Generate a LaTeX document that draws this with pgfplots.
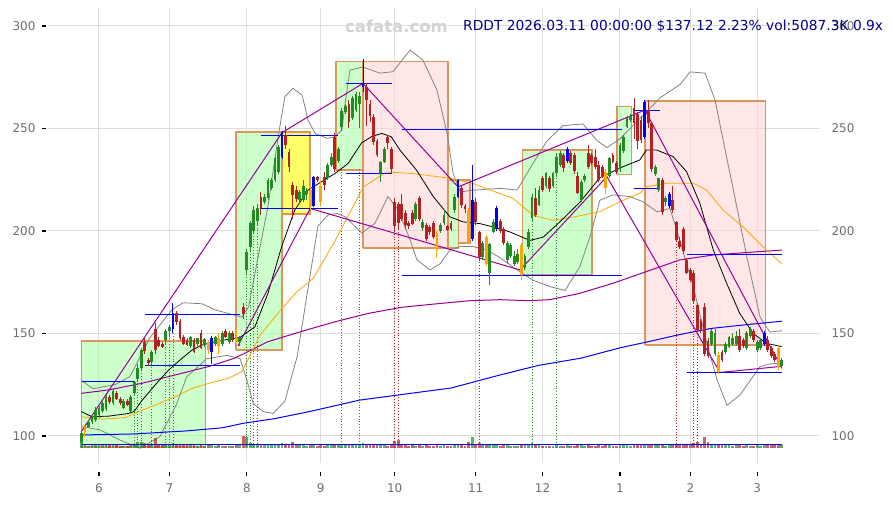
\documentclass[border=0pt]{standalone}
\usepackage{fontspec}
\setmainfont{DejaVu Sans}
\usepackage{pgfplots}
\usepackage{pgfplotstable}
\pgfplotsset{compat=1.18}

\definecolor{cgreen}{RGB}{34,139,34}
\definecolor{cred}{RGB}{178,34,34}
\definecolor{corange}{RGB}{255,165,0}
\definecolor{cblue}{RGB}{0,0,255}
\definecolor{cpurple}{RGB}{153,0,153}
\definecolor{boxedge}{RGB}{220,150,90}
\definecolor{gridc}{RGB}{221,221,221}
\definecolor{tickc}{RGB}{110,110,110}
\definecolor{titlec}{RGB}{0,0,139}
\definecolor{wmark}{RGB}{212,212,212}
\definecolor{bandc}{RGB}{130,130,130}
\definecolor{fgreen}{RGB}{170,255,170}
\definecolor{fpink}{RGB}{255,215,215}
\definecolor{fyellow}{RGB}{255,255,0}

% i = trading day (0 = 2 Jun 2025), t: 0 up, 1 down, 2 orange signal, 3 blue signal, v = volume bar height
\pgfplotstableread{
i o h l c t v
-5 97 103 94 101.5 0 2.8
-4 102 105.5 99.5 104 2 0.8
-3 104.5 108 104 107 0 0.6
-2 107 110 106 109.4 0 0.7
-1 108 114 107 112.5 0 0.9
0 110 114.5 109 113.5 0 0.8
1 112 117 111 116 0 0.7
2 113 120 112 119 0 1.0
3 119 120 115.5 116.5 1 0.8
4 116 123 115 122 0 0.9
5 121 122 117.5 118 1 0.7
6 118 119 115 116 1 0.6
7 113.5 118 113 117 0 0.6
8 117 118 114.5 115 1 0.5
9 112 120 111.5 119 0 0.8
10 121 127 120 126.5 0 1.1
11 128 135 127 133 0 1.4
12 133 143 132 142 0 1.6
13 146 148 140 141.5 1 1.2
14 137 138 134 135.5 1 0.8
15 136 142 135 141 0 0.9
16 152 155 140 142 1 2.4
17 147 148.5 143.5 144 1 1.0
18 145 146 143 143.5 1 0.7
19 147 152 145 151 0 0.9
20 151 154 149 153.3 0 0.9
21 152 165 150 160 3 1.3
22 159.8 161 154 155.8 1 1.0
23 156 157 147 147.6 1 1.1
24 148.5 149.5 144.5 145 1 0.8
25 147 148 144 144.5 1 0.7
26 144 149 143 148.5 0 0.8
27 147 148 140.5 141 1 0.7
28 145 148 144 147.6 0 0.6
29 150 151.5 142.5 143 1 0.8
30 144.5 148 143.5 147.5 0 0.6
31 146 147 140 142 2 0.7
32 141 149 135 148 3 0.9
33 145 149 144 148.5 0 0.6
34 148 150 140 144 2 0.7
35 145 151 144 150 0 0.6
36 151 152 148 148.5 1 0.5
37 146 151 145 150 0 0.6
38 150 151 146 147 1 0.6
39 148 152 145 146 2 0.7
40 146 149 144 148 0 0.8
41 163 165 157 159.5 1 3.0
42 181 191 179 189.9 0 2.8
43 192 205 190 203.7 0 1.2
44 200 212 199 210 0 1.0
45 205 213 203 211 0 0.9
46 216.7 219 208 211 1 0.8
47 214 218 213 216.5 0 0.7
48 216 226 215 224.9 0 0.9
49 221 226 220 225 0 0.7
50 225 236 224 235.5 0 1.0
51 229 242 228 241 0 1.0
52 236 249 235 248.4 3 1.2
53 247 251 240 242 1 1.1
54 238.7 240 229 231.4 1 1.0
55 222.4 224 206 217.6 1 1.5
56 220 222 214 215.5 1 0.9
57 215 220 213 219 0 0.7
58 215 225 214 222 0 0.8
59 218 221 215 219.5 0 0.6
60 220 222 210 212 2 0.8
61 212 227 211.8 226.5 3 0.9
62 226.5 227 224 224.8 1 0.6
63 222 225 212 214 2 0.7
64 226.5 229 220 222.4 1 0.6
65 226 233 225 232.2 0 0.7
66 232 238 231 236 0 0.8
67 246 248 229 230 1 1.0
68 234 241 233 240 0 0.7
69 250.6 260 249 258.7 0 1.1
70 258 262 257 261 0 0.7
71 262 264 250 253 1 0.8
72 255 266 254 265 0 0.8
73 259 268 258 267 0 0.7
74 262 268 250 266 0 0.9
75 270 284 268 272 3 1.2
76 270.4 272 251 263.9 1 1.0
77 262 264 253 256 1 0.8
78 255.5 257 242 243.4 1 0.9
79 244 245 236 237 1 0.8
80 228.1 234 224 233.8 0 0.9
81 233.8 241 233 240 0 0.7
82 245.9 247 240 242.7 1 0.6
83 240 241 228 230 1 0.8
84 214.3 216 200 202.2 1 1.8
85 213 214 201 204 1 2.0
86 213 218 205 206 1 1.0
87 208.8 210 201 203 1 0.8
88 204 205 201 202.5 1 0.6
89 209 210 203 203.5 1 0.7
90 206 214 205 213 0 0.6
91 216 217 205 206 1 0.7
92 201.3 206 200 204.6 0 0.5
93 203 204 195 196 1 0.7
94 202 203 198 199.5 1 0.6
95 204 205 196 197 1 0.6
96 199 200 187 190.5 2 0.8
97 200 204 199 203 0 0.6
98 204 210 203 208 0 0.7
99 202.5 203 200 200.5 1 0.5
100 204 205 200 201 1 0.6
101 210.2 218 209 216.7 0 0.9
102 216.7 225.5 216 224.9 3 1.0
103 220.9 222 211 212.7 1 0.8
104 212 213 209 210.5 1 0.6
105 210 211 193.5 194.5 2 1.6
106 196 232 195 215 3 2.6
107 214 216 203 204.6 1 1.0
108 199.7 200 186 187.5 1 1.2
109 187.5 195 186 194 0 0.8
110 197 198 183 184 2 0.9
111 179.5 194 173.5 193.5 0 1.1
112 199.7 206 199 204.6 0 0.7
113 201 212 200 211 3 0.8
114 205 206 199 200 1 0.6
115 201 202 193 194 1 0.7
116 185.8 195 184 194 0 0.8
117 188 194 187 193 0 0.5
118 184 190 183 188 0 0.6
119 185 191 184 189 0 0.5
120 193 194 176 178.5 2 0.9
121 182 189 181 188 0 0.7
122 192.4 201 191 199.7 0 0.8
123 206.2 218 205 216.7 0 1.2
124 216 221 207 208 1 0.8
125 212.7 222 212 220 0 0.7
126 225.8 227 219 220 1 0.6
127 222 229 221 228.2 0 0.6
128 226 227 219 220.5 1 0.5
129 222 229 221 228.5 0 0.6
130 228.2 238 227 236.3 0 0.9
131 232 239 231 238 0 0.6
132 237 238 229 230.5 1 0.6
133 234 241 233 240 3 0.7
134 238 239 232 233 1 0.5
135 237 238 228 229.5 1 0.6
136 227 229 218 218.5 1 0.8
137 215 225 214 224 0 0.7
138 225 228 224 227 0 0.5
139 238 242 230 231 1 0.7
140 237 238 232 233 1 0.5
141 236 240 230 231 1 0.6
142 232 234 224 225 1 0.7
143 231 232 226 227 1 0.5
144 229 230 218 221 2 0.7
145 226.6 236 226 235.5 0 0.8
146 237 238 233 233.5 1 0.5
147 233 234 228 229 1 0.5
148 230 243 229 242 0 0.8
149 239 247 238 246 0 0.8
150 250.9 256 250 255 0 0.9
151 254 257 253 256 0 0.6
152 259.8 265 245 252.6 1 0.9
153 257 258 240 244 1 0.8
154 254 256 243 244.5 1 0.8
155 246 264 245 263 3 1.0
156 259 264 250 252.6 1 0.8
157 252.6 253 229 230 1 1.1
158 228 232 227 231 0 0.7
159 220 226 219 225.7 0 0.8
160 225 226 208 209.4 1 0.9
161 214 217 212 216 0 0.6
162 212 219 211 218 3 0.7
163 215 222 209 210 1 0.7
164 204.6 205 195 195.6 1 1.0
165 195 197 191 192 1 0.8
166 201 202 189 190 1 0.9
167 186 187 179 179.5 1 1.0
168 181 182 175 176 1 0.9
169 179.5 181 165 165.9 1 1.2
170 164 165 151 151.9 1 1.4
171 156 157 150 151 1 1.0
172 163 165 139 140 1 2.8
173 146.5 148 138 139.2 1 1.5
174 144.7 152 144 151 0 1.0
175 140 152 139 150 0 0.9
176 139.7 141 130 131 2 1.1
177 141 142 136 137 1 0.8
178 141 146 140 145 0 0.8
179 143.3 149 143 148.2 0 0.7
180 145 150 144 148 0 0.6
181 145 151 144 149 0 0.7
182 149 152 141 142 1 0.8
183 147 148 143 144 1 0.6
184 143 151 142 150 0 0.7
185 149 153 148 152 0 0.6
186 151 152 146 147 1 0.6
187 142 147 141 146 0 0.7
188 143 148 142 147 0 0.6
189 145 151 144 150 3 0.7
190 147 149 141 142 1 0.8
191 143 144 138 139 1 0.7
192 140 141 136 137 1 0.7
193 143 144 132 133.5 2 0.9
194 134 138 133 137.12 0 0.8
}\candles

\pgfplotsset{
  nomark/.style={only marks, mark=*, mark size=0pt, mark options={draw opacity=0, fill opacity=0}, forget plot},
  wick/.style={nomark,
    error bars/y dir=both, error bars/y explicit, error bars/error mark=none,
    error bars/error bar style={line width=0.9pt, color=#1}},
  body/.style={nomark,
    error bars/y dir=both, error bars/y explicit, error bars/error mark=none,
    error bars/error bar style={line width=2.8pt, color=#1}},
  vol/.style={nomark,
    error bars/y dir=both, error bars/y explicit, error bars/error mark=none,
    error bars/error bar style={line width=2.8pt, color=#1, opacity=0.7}},
  bx/.style={draw=boxedge, line width=1.4pt, fill=#1, fill opacity=0.6},
}

\newcommand{\candleset}[2]{%
  \addplot[restrict expr to domain={\thisrow{t}}{#1:#1}, wick=#2]
    table[x=i, y expr={(\thisrow{h}+\thisrow{l})/2}, y error expr={(\thisrow{h}-\thisrow{l})/2}] {\candles};
  \addplot[restrict expr to domain={\thisrow{t}}{#1:#1}, body=#2]
    table[x=i, y expr={(\thisrow{o}+\thisrow{c})/2}, y error expr={max(abs(\thisrow{o}-\thisrow{c})/2,0.3)}] {\candles};
}

\begin{document}
\begin{tikzpicture}[font=\fontsize{12}{14}\selectfont]
\useasboundingbox (0,0) rectangle (893pt,505pt);
\begin{axis}[
  at={(47pt,42pt)}, anchor=south west,
  scale only axis, width=773pt, height=455pt,
  xmin=-14.77, xmax=204.83, ymin=86.83, ymax=308.78,
  axis line style={draw=none},
  grid=major, grid style={gridc, line width=1pt},
  xtick={0,20,42,63,84,107,126,148,168,187},
  xticklabels={6,7,8,9,10,11,12,1,2,3},
  ytick={100,150,200,250,300},
  xtick pos=bottom, ytick pos=left,
  tick align=outside, major tick length=4pt,
  tick style={draw=none},
  ticklabel style={font=\fontsize{12}{14}\selectfont, text=tickc},
  xticklabel style={yshift=-13pt},
  yticklabel style={xshift=-4pt},
  /pgf/number format/assume math mode=true,
]
% boxes
\addplot[bx=fgreen] coordinates {(-4.9,94.6) (30.3,94.6) (30.3,146.3) (-4.9,146.3) (-4.9,94.6)};
\addplot[bx=fgreen] coordinates {(38.9,142) (52,142) (52,248.3) (38.9,248.3) (38.9,142)};
\addplot[bx=fyellow] coordinates {(52,208.3) (59.9,208.3) (59.9,248.3) (52,248.3) (52,208.3)};
\addplot[bx=fgreen] coordinates {(67.3,229.8) (75,229.8) (75,282.8) (67.3,282.8) (67.3,229.8)};
\addplot[bx=fpink] coordinates {(75,191.7) (99.1,191.7) (99.1,282.8) (75,282.8) (75,191.7)};
\addplot[bx=fgreen] coordinates {(99.1,191.7) (102.1,191.7) (102.1,224.9) (99.1,224.9) (99.1,191.7)};
\addplot[bx=fpink] coordinates {(102.1,194.1) (105.4,194.1) (105.4,224.9) (102.1,224.9) (102.1,194.1)};
\addplot[bx=fgreen] coordinates {(120.3,178.5) (140.1,178.5) (140.1,239.5) (120.3,239.5) (120.3,178.5)};
\addplot[bx=fgreen] coordinates {(147.2,227.7) (151.3,227.7) (151.3,260.6) (147.2,260.6) (147.2,227.7)};
\addplot[bx=fpink] coordinates {(155.1,144.4) (189.4,144.4) (189.4,263.4) (155.1,263.4) (155.1,144.4)};

% signal verticals
\addplot[cgreen, dotted, line width=0.8pt, unbounded coords=jump] coordinates {
 (10,120) (10,94.5) (10,nan) (11,127) (11,94.5) (11,nan) (12,132) (12,94.5) (12,nan)
 (15,135) (15,94.5) (15,nan) (19,145) (19,94.5) (19,nan) (20,149) (20,94.5) (20,nan)
 (21,150) (21,94.5) (21,nan) (42,179) (42,94.5) (42,nan) (43,190) (43,94.5) (43,nan)
 (44,199) (44,94.5) (44,nan) (45,203) (45,94.5) (45,nan) (69,230) (69,94.5) (69,nan)
 (74,230) (74,94.5) (74,nan) (123,205) (123,94.5) (123,nan) (130,227) (130,94.5)};
\addplot[cred, dotted, line width=0.8pt, unbounded coords=jump] coordinates {
 (84,200) (84,94.5) (84,nan) (85,201) (85,94.5) (85,nan) (108,186) (108,94.5) (108,nan)
 (164,195) (164,94.5) (164,nan) (169,165) (169,94.5) (169,nan) (170,151) (170,94.5)};

% bollinger bands
\addplot[bandc, line width=0.8pt] coordinates {
 (-4.9,127) (-1.7,123) (1.1,124) (4.5,125) (8.8,129) (14.5,148) (20.7,161.5) (23.9,165)
 (29.3,164.5) (33,161.5) (40.6,158) (42.5,163) (45.5,190) (48,212) (50.9,246) (52.8,265.5)
 (55.1,269.6) (57.7,266.3) (59.4,254) (61.4,247.6) (64.8,245.2) (67,246) (69,249.3) (69.9,262)
 (71.3,278.5) (75,280) (79.8,277) (83.5,277.7) (88.4,288.3) (92,283.4) (96,268.8) (98.9,247.6)
 (100.6,228.1) (102.6,219.1) (106.3,219.9) (113.9,220.8) (118.8,220) (120.5,224.9) (123.3,233)
 (127.3,244) (131.8,251.4) (137.5,252.2) (141.5,244) (144.3,240.7) (148,245) (150.9,250)
 (159.4,265) (165.1,271.5) (167.9,277.6) (172.2,277) (175,264) (176.4,252) (180.1,221)
 (184.1,187) (187.8,158) (190.6,150.7) (194,151.4)};
\addplot[bandc, line width=0.8pt] coordinates {
 (-4.9,104.6) (0.3,103) (6,98) (11.6,94) (17.3,99.7) (22.1,115.8) (24.9,128.8) (30.6,137.7)
 (36.3,139.3) (40.1,137.7) (42,127.3) (43.8,115.9) (46.7,111.9) (49.5,111) (52.8,117)
 (56.3,138.8) (62.2,202.4) (65.1,207.8) (67.6,208.6) (69.9,207) (74.7,199) (78.4,203.8)
 (82.1,216.8) (85,210.3) (88.4,195.6) (90.3,186) (94,181) (96.9,184) (99.7,190.7) (102.6,192.4)
 (106.3,192.4) (110.2,190.7) (113.9,187) (118.8,181) (123.3,176) (128.1,172.9) (132.4,171)
 (136.6,182.6) (139.5,197.3) (142.3,215) (146,217.6) (150.9,216.8) (154.5,214.3) (158.5,209.4)
 (162.2,211) (165.1,195) (168.8,172.9) (172.7,145.2) (175.6,127.3) (178.4,115) (182.1,120)
 (187.8,133.9) (191.5,135.5) (194,135)};

% moving averages
\addplot[cblue, line width=1pt] coordinates {
 (-5,100.5) (10,101) (25,102.5) (35,104) (41,106.2) (50,108.5) (60,112) (74,117.5) (85,120)
 (100,123.4) (114,129.8) (125,134.5) (137,138) (148,143) (156,146) (165,149.5) (174,152.5)
 (185,154.5) (194,156)};
\addplot[cpurple, line width=1pt] coordinates {
 (-5,120.8) (2.8,122.5) (12.2,125.7) (21.7,129.8) (31.2,133.9) (38.6,138) (48,146) (57.5,151)
 (67,155.7) (76.5,159.8) (86,162.8) (96,164.5) (105.4,166) (114,166.5) (122,166) (128,166.5)
 (136.6,169.6) (146,174.5) (155.5,180.2) (165,185.9) (174.5,188.3) (184,189.5) (194,190.7)};
\addplot[corange, line width=0.8pt] coordinates {
 (-5,109.4) (0.9,108.2) (7.5,109) (11.3,111.9) (16,115.1) (21.7,119.2) (26.4,123.2) (31.2,125.7)
 (36.8,128.2) (40.6,131.4) (45.7,149) (51.4,161) (56,170) (60.9,177) (67,195) (75.1,221.5)
 (81.7,228.8) (89.3,228) (100.7,225.5) (106.3,223.1) (117.7,215.8) (123.4,207.6) (129,205.2)
 (134.7,206.8) (142.3,209.4) (148,214.3) (153.6,218.4) (155.5,221.6) (161.2,223.3) (168.8,223.3)
 (172.6,220) (177.3,210.2) (183,202) (188.7,192.2) (193.9,184.1)};
\addplot[black, line width=0.8pt] coordinates {
 (-5,111.9) (-2,109.4) (2.8,109.7) (8.4,111) (10,112) (12,116.9) (16,125) (19.8,132.2)
 (23.6,137.9) (26.4,141.9) (29.3,144.4) (33,146) (36.8,147.2) (40,148) (44.3,153.3) (48,169.6)
 (51.9,192.4) (55.6,210.2) (59.4,220) (63.2,224) (67,228) (70.8,233) (74.6,243) (77.4,246)
 (80.3,247.6) (83,246) (85.5,239.5) (90.2,229.7) (95,216.7) (99.7,206.9) (103.5,204.4)
 (108.2,203.6) (112,202) (116.8,199.5) (122.4,195.4) (126.2,197) (130.9,204.4) (136.6,214)
 (142.3,226) (148.9,231.4) (153.6,234.6) (155.5,239.5) (158.4,239.5) (163.1,236.3) (166.9,229)
 (170.7,213.5) (174.5,190.8) (178.3,174.5) (182,159.9) (185.8,150.1) (189.6,145.2) (193.9,143.6)};

% trend lines
\addplot[cpurple, line width=1pt] coordinates {(-5.1,102) (52,248) (75,272) (102,221.5) (155.1,259) (194,133)};
\addplot[cpurple, line width=1pt] coordinates {(39.5,144) (60,211) (119.6,181) (144.3,226.5) (176.4,131) (194,134)};

% support / resistance
\addplot[cblue, line width=1pt, unbounded coords=jump] coordinates {
 (-4.9,126.5) (10.2,126.5) (10.2,nan) (13.1,159.4) (40,159.4) (40,nan) (13.1,134.3) (40,134.3) (40,nan)
 (46,246.8) (67.9,246.8) (67.9,nan) (46,211) (67.9,211) (67.9,nan) (70.2,272) (83.2,272) (83.2,nan)
 (70.2,228.1) (83.2,228.1) (83.2,nan) (86,249.3) (148.6,249.3) (148.6,nan) (86,178.5) (148.6,178.5) (148.6,nan)
 (152,259) (159.4,259) (159.4,nan) (152,220.5) (159.4,220.5) (159.4,nan) (167,131) (194,131) (194,nan)
 (167,188.3) (194,188.3)};

% volume
\addplot[restrict expr to domain={\thisrow{c}-\thisrow{o}}{0:1000}, vol=cgreen]
  table[x=i, y expr={94.1+\thisrow{v}}, y error expr={\thisrow{v}}] {\candles};
\addplot[restrict expr to domain={\thisrow{c}-\thisrow{o}}{-1000:-0.001}, vol=cred]
  table[x=i, y expr={94.1+\thisrow{v}}, y error expr={\thisrow{v}}] {\candles};
\addplot[cblue, line width=1.8pt] coordinates {(-5,95.9) (194,95.9)};

% candles
\candleset{0}{cgreen}
\candleset{1}{cred}
\candleset{2}{corange}
\candleset{3}{cblue}
\end{axis}
\begin{axis}[
  at={(47pt,42pt)}, anchor=south west,
  scale only axis, width=773pt, height=455pt,
  xmin=-14.77, xmax=204.83, ymin=86.83, ymax=308.78,
  axis line style={draw=none}, xtick=\empty,
  ytick={100,150,200,250,300},
  ytick pos=right, yticklabel pos=right,
  tick style={draw=none},
  ticklabel style={font=\fontsize{12}{14}\selectfont, text=tickc},
  yticklabel style={xshift=8pt},
  /pgf/number format/assume math mode=true,
]
\end{axis}
% tick marks, set apart from the plot area as in the reference
\foreach \px in {99,169.4,246.8,320.8,394.7,475.6,542.5,620,690.4,757.2}
  \draw[black, line width=1.2pt] (\px pt,29pt) -- (\px pt,33pt);
\foreach \py in {69,171.5,274,376.5,479}
  \draw[black, line width=1.2pt] (42pt,\py pt) -- (46pt,\py pt);
\node[font=\bfseries\fontsize{16.5}{18}\selectfont, text=wmark, inner sep=0] at (396.5pt,479pt) {cafata.com};
\node[anchor=west, font=\fontsize{13.8}{16}\selectfont, text=titlec, inner sep=0] at (463pt,479pt)
  {RDDT 2026.03.11 00:00:00 \$137.12 2.23\% vol:5087.3K 0.9x};
\end{tikzpicture}
\end{document}
